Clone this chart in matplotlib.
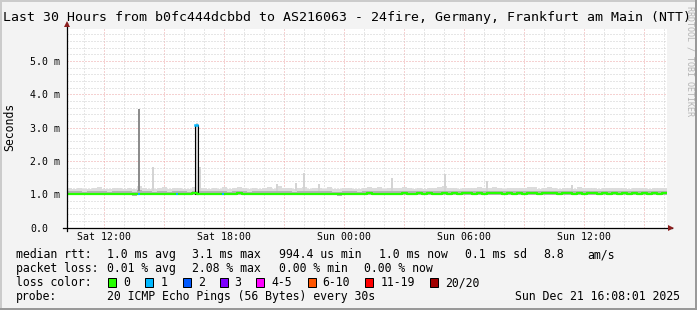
import numpy as np
import matplotlib.pyplot as plt
from matplotlib.patches import Rectangle

plt.rcParams['font.family'] = ['DejaVu Sans Mono']

# --- data (15 minute samples starting Sat 10:08) ---
start_clock = 10 + 8 / 60
step_h = 0.25

median = [1.02, 1.01, 1.02, 1.01, 1.00, 1.01, 1.02, 1.01, 1.00, 1.01,
          1.02, 1.01, 1.01, 1.00, 1.01, 1.02, 1.01, 1.00, 1.01, 1.01,
          1.00, 1.01, 1.02, 1.01, 1.01, 1.03, 1.02, 1.02, 1.01, 1.02,
          1.01, 1.02, 1.01, 1.02, 1.03, 1.02, 1.01, 1.02, 1.01, 1.02,
          1.02, 1.01, 1.02, 1.01, 1.02, 1.01, 1.02, 1.01, 1.01, 1.02,
          1.02, 1.01, 1.02, 1.01, 1.00, 1.01, 1.02, 1.02, 1.01, 1.02,
          1.03, 1.02, 1.02, 1.01, 1.02, 1.01, 1.02, 1.03, 1.02, 1.02,
          1.03, 1.02, 1.03, 1.02, 1.02, 1.03, 1.02, 1.03, 1.02, 1.03,
          1.03, 1.02, 1.03, 1.02, 1.03, 1.04, 1.03, 1.02, 1.03, 1.02,
          1.03, 1.02, 1.03, 1.03, 1.02, 1.03, 1.04, 1.03, 1.02, 1.03,
          1.03, 1.02, 1.03, 1.02, 1.03, 1.03, 1.02, 1.03, 1.02, 1.03,
          1.02, 1.03, 1.02, 1.03, 1.02, 1.03, 1.02, 1.03, 1.02, 1.03]

smoke_lo = [0.98, 0.97, 0.98, 0.97, 0.97, 0.98, 0.97, 0.98, 0.97, 0.97,
            0.98, 0.97, 0.97, 0.96, 0.97, 0.98, 0.97, 0.97, 0.98, 0.97,
            0.97, 0.98, 0.97, 0.97, 0.98, 0.97, 0.98, 0.97, 0.97, 0.98,
            0.97, 0.98, 0.97, 0.98, 0.98, 0.97, 0.97, 0.98, 0.97, 0.98,
            0.98, 0.97, 0.98, 0.97, 0.98, 0.97, 0.97, 0.98, 0.97, 0.98,
            0.98, 0.97, 0.98, 0.97, 0.96, 0.97, 0.98, 0.98, 0.97, 0.98,
            0.99, 0.98, 0.98, 0.97, 0.98, 0.97, 0.98, 0.99, 0.98, 0.98,
            0.99, 0.98, 0.99, 0.98, 0.98, 0.99, 0.98, 0.99, 0.98, 0.99,
            0.99, 0.98, 0.99, 0.98, 0.99, 0.99, 0.99, 0.98, 0.99, 0.98,
            0.99, 0.98, 0.99, 0.99, 0.98, 0.99, 0.99, 0.99, 0.98, 0.99,
            0.99, 0.98, 0.99, 0.98, 0.99, 0.99, 0.98, 0.99, 0.98, 0.99,
            0.98, 0.99, 0.98, 0.99, 0.98, 0.99, 0.98, 0.99, 0.98, 0.99]

smoke_q3 = [1.10, 1.09, 1.10, 1.08, 1.09, 1.10, 1.11, 1.09, 1.08, 1.09,
            1.10, 1.09, 1.10, 1.08, 1.12, 1.10, 1.09, 1.08, 1.09, 1.10,
            1.08, 1.09, 1.10, 1.09, 1.08, 1.11, 1.09, 1.10, 1.09, 1.10,
            1.09, 1.10, 1.08, 1.09, 1.10, 1.09, 1.08, 1.10, 1.09, 1.10,
            1.10, 1.09, 1.10, 1.09, 1.10, 1.08, 1.09, 1.10, 1.09, 1.10,
            1.10, 1.09, 1.10, 1.08, 1.08, 1.09, 1.10, 1.09, 1.08, 1.10,
            1.10, 1.09, 1.10, 1.09, 1.10, 1.09, 1.10, 1.11, 1.10, 1.09,
            1.10, 1.09, 1.10, 1.09, 1.10, 1.11, 1.09, 1.10, 1.09, 1.10,
            1.10, 1.09, 1.10, 1.09, 1.10, 1.11, 1.10, 1.09, 1.10, 1.09,
            1.10, 1.09, 1.11, 1.10, 1.09, 1.10, 1.11, 1.10, 1.09, 1.10,
            1.10, 1.09, 1.10, 1.09, 1.10, 1.10, 1.09, 1.10, 1.09, 1.10,
            1.09, 1.10, 1.09, 1.10, 1.09, 1.10, 1.09, 1.10, 1.09, 1.10]

smoke_hi = [1.18, 1.16, 1.20, 1.17, 1.15, 1.19, 1.22, 1.17, 1.16, 1.18,
            1.20, 1.17, 1.19, 1.16, 1.24, 1.19, 1.17, 1.16, 1.18, 1.21,
            1.16, 1.18, 1.20, 1.17, 1.16, 1.22, 1.18, 1.20, 1.17, 1.19,
            1.17, 1.21, 1.16, 1.18, 1.22, 1.18, 1.16, 1.20, 1.17, 1.19,
            1.21, 1.17, 1.24, 1.18, 1.20, 1.16, 1.18, 1.22, 1.17, 1.20,
            1.19, 1.17, 1.21, 1.16, 1.16, 1.18, 1.20, 1.17, 1.16, 1.19,
            1.21, 1.18, 1.22, 1.17, 1.19, 1.18, 1.20, 1.23, 1.20, 1.17,
            1.19, 1.17, 1.20, 1.18, 1.21, 1.24, 1.18, 1.20, 1.17, 1.19,
            1.20, 1.18, 1.21, 1.18, 1.19, 1.22, 1.20, 1.17, 1.19, 1.18,
            1.20, 1.18, 1.23, 1.21, 1.17, 1.20, 1.22, 1.19, 1.17, 1.20,
            1.19, 1.17, 1.21, 1.18, 1.20, 1.19, 1.17, 1.20, 1.18, 1.19,
            1.18, 1.20, 1.17, 1.19, 1.18, 1.20, 1.17, 1.19, 1.18, 1.19]

# outlier pings (hours after start, ms)
spike_hours = [4.30, 6.50, 6.62, 10.50, 11.45, 11.85, 12.60, 16.25, 18.90, 21.00, 25.25]
spike_tops = [1.83, 3.15, 1.83, 1.31, 1.34, 1.65, 1.30, 1.50, 1.60, 1.40, 1.27]
dark_spike_hour = 3.60
dark_spike_top = 3.55
median_spike_hour = 6.47
median_spike_ms = 3.08
loss_hours = [3.60, 5.50, 7.80]
loss_ms = [1.01, 1.01, 1.02]

x_ticks_clock = [12, 18, 24, 30, 36]
x_tick_labels = ["Sat 12:00", "Sat 18:00", "Sun 00:00", "Sun 06:00", "Sun 12:00"]
y_ticks = [0, 1, 2, 3, 4, 5]
y_tick_labels = ["0.0", "1.0 m", "2.0 m", "3.0 m", "4.0 m", "5.0 m"]

loss_names = ["0", "1", "2", "3", "4-5", "6-10", "11-19", "20/20"]
loss_colors = ["#26ff00", "#00b8ff", "#0059ff", "#7e00ff", "#ff00ff",
               "#ff5500", "#ff0000", "#a10000"]

W, H = 697, 310


def fx(x):
    return x / W


def fy(y):
    return 1 - y / H


fig = plt.figure(figsize=(W / 100, H / 100), dpi=100, facecolor='#f3f3f3')
ax = fig.add_axes([fx(67), fy(227.7), 600 / W, (227.7 - 29.4) / H])
ax.set_facecolor('white')

t = np.arange(len(median) + 1) * step_h
ext = lambda a: np.append(a, a[-1])

ax.fill_between(t, ext(smoke_lo), ext(smoke_hi), step='post', color='#dcdcdc', lw=0)
ax.fill_between(t, ext(smoke_lo), ext(smoke_q3), step='post', color='#b4b4b4', lw=0)
ax.bar(spike_hours, np.array(spike_tops) - 1.1, bottom=1.1, width=0.12,
       color='#d4d4d4', lw=0)
ax.bar(dark_spike_hour, dark_spike_top - 1.1, bottom=1.1, width=0.12,
       color='#8c8c8c', lw=0)
ax.bar(median_spike_hour, median_spike_ms - 1.02, bottom=1.02, width=0.11,
       facecolor='none', edgecolor='black', lw=0.8)
ax.step(t, ext(median), where='post', color='#26ff00', lw=1.6)
ax.plot([median_spike_hour - 0.05, median_spike_hour + 0.05],
        [median_spike_ms, median_spike_ms], color='#00b8ff', lw=1.8)
ax.plot(loss_hours, loss_ms, 's', color='#00b8ff', ms=2, mew=0)

ax.set_xlim(0, 30)
ax.set_ylim(0, 5.95)

x_major = [h - start_clock for h in range(12, 40, 3)]
x_minor = [h - start_clock for h in range(11, 41) if h - start_clock < 30]
ax.set_xticks(x_major)
ax.set_xticks(x_minor, minor=True)
ax.set_xticklabels([x_tick_labels[x_ticks_clock.index(h)] if h in x_ticks_clock else ""
                    for h in range(12, 40, 3)])
ax.set_yticks(y_ticks)
ax.set_yticks(np.arange(0, 6, 0.2), minor=True)
ax.set_yticklabels(y_tick_labels)
for lab in ax.get_yticklabels():
    lab.set_horizontalalignment('left')

ax.tick_params(which='both', length=0, labelsize=7.1)
ax.tick_params(axis='y', pad=26.6)
ax.tick_params(axis='x', pad=3)

ax.set_axisbelow(True)
ax.grid(which='minor', color='#cfcfcf', lw=0.72, ls=(0, (1, 2)))
ax.grid(which='major', color='#eca4a4', lw=0.72, ls=(0, (1, 2)))
for s in ax.spines.values():
    s.set_visible(False)

# axes with arrows
ax.plot([-4 / 600, 1 + 5 / 600], [0, 0], transform=ax.transAxes, color='black',
        lw=0.9, clip_on=False)
ax.plot([0, 0], [-3 / 198, 1 + 6 / 198], transform=ax.transAxes, color='black',
        lw=0.9, clip_on=False)
ax.plot(1 + 4 / 600, 0, '>', transform=ax.transAxes, color='#8b1e1e', ms=4.5,
        mew=0, clip_on=False)
ax.plot(0, 1 + 5 / 198, '^', transform=ax.transAxes, color='#8b1e1e', ms=4.5,
        mew=0, clip_on=False)

# texts
fig.text(fx(347), fy(18), "Last 30 Hours from b0fc444dcbbd to AS216063 - 24fire, "
         "Germany, Frankfurt am Main (NTT)", ha='center', va='center', size=9.55)
fig.text(fx(10), fy(127), "Seconds", rotation=90, ha='center', va='center', size=8.3)
fig.text(fx(690), fy(61), "RRDTOOL / TOBI OETIKER", rotation=270, ha='center',
         va='center', size=6, color='#b4b4b4')

rows = [
    (254.7, [("median rtt:", 16), ("1.0 ms avg", 107), ("3.1 ms max", 192),
             ("994.4 us min", 279), ("1.0 ms now", 378.7), ("0.1 ms sd", 465),
             ("8.8", 543), ("am/s", 587)]),
    (268.7, [("packet loss:", 16), ("0.01 % avg", 107), ("2.08 % max", 192),
             ("0.00 % min", 279), ("0.00 % now", 364)]),
    (282.7, [("loss color:", 16)]),
    (296.7, [("probe:", 16), ("20 ICMP Echo Pings (56 Bytes) every 30s", 107)]),
]
for y, items in rows:
    for txt, x in items:
        fig.text(fx(x), fy(y), txt, ha='left', va='center', size=8.3)
fig.text(fx(680), fy(296.7), "Sun Dec 21 16:08:01 2025", ha='right', va='center', size=8.3)

box_x = [108, 145.3, 182.7, 219.6, 256.4, 307.6, 365.3, 430.2]
for name, col, bx in zip(loss_names, loss_colors, box_x):
    fig.add_artist(Rectangle((fx(bx), fy(282.7 + 4.5)), 8 / W, 9 / H,
                             facecolor=col, edgecolor='black', lw=0.72,
                             transform=fig.transFigure))
    fig.text(fx(bx + 15), fy(282.7), name, ha='left', va='center', size=8.3)

# frame shading
fig.add_artist(Rectangle((0, 1 - 2 / H), 1, 2 / H, color='#cbcbcb', lw=0, transform=fig.transFigure))
fig.add_artist(Rectangle((0, 0), 2 / W, 1, color='#cbcbcb', lw=0, transform=fig.transFigure))
fig.add_artist(Rectangle((0, 0), 1, 2 / H, color='#999999', lw=0, transform=fig.transFigure))
fig.add_artist(Rectangle((1 - 2 / W, 0), 2 / W, 1, color='#999999', lw=0, transform=fig.transFigure))

fig.savefig('out.png', dpi=100, facecolor=fig.get_facecolor())
